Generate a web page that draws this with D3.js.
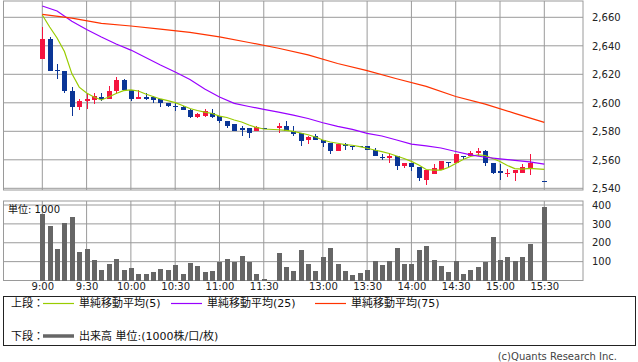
<!DOCTYPE html>
<html lang="ja">
<head>
  <meta charset="UTF-8">
  <title>5分足チャート</title>
  <script src="https://d3js.org/d3.v7.min.js"></script>
  <style>
    body {
      margin: 0;
      background: #fff;
    }
    svg {
      display: block;
      font-family: "DejaVu Sans", "Noto Sans CJK JP", sans-serif;
    }
  </style>
</head>
<body>
  <svg id="chart" width="638" height="362"></svg>

  <script>
    // 5分刻みの時刻（昼休みは1枠だけ空ける）
    const times = [
      '9:00', '9:05', '9:10', '9:15', '9:20', '9:25', '9:30', '9:35', '9:40', '9:45', '9:50', '9:55',
      '10:00', '10:05', '10:10', '10:15', '10:20', '10:25', '10:30', '10:35', '10:40', '10:45', '10:50', '10:55',
      '11:00', '11:05', '11:10', '11:15', '11:20', '11:25', '11:30', '昼休み',
      '12:30', '12:35', '12:40', '12:45', '12:50', '12:55',
      '13:00', '13:05', '13:10', '13:15', '13:20', '13:25', '13:30', '13:35', '13:40', '13:45', '13:50', '13:55',
      '14:00', '14:05', '14:10', '14:15', '14:20', '14:25', '14:30', '14:35', '14:40', '14:45', '14:50', '14:55',
      '15:00', '15:05', '15:10', '15:15', '15:20', '15:25', '15:30'
    ];
    const tickTimes = ['9:00', '9:30', '10:00', '10:30', '11:00', '11:30', '13:00', '13:30', '14:00', '14:30', '15:00', '15:30'];
    const priceTicks = [2540, 2560, 2580, 2600, 2620, 2640, 2660];
    const volumeTicks = [100, 200, 300, 400];

    // 四本値
    const open = [
      2631, 2645, 2623, 2622, 2608, 2597, 2601, 2602, 2604, 2603, 2608, 2616,
      2609, 2603, 2604, 2604, 2603, 2600, 2598, 2597, 2595, 2590, 2591, 2593,
      2591, 2587, 2585, 2582, 2582, 2580, 2582.5, null,
      2582, 2584, 2580, 2579, 2574, 2577,
      2574, 2572, 2566, 2571, 2570, 2570, 2570, 2567, 2562, 2561, 2563, 2556,
      2558, 2555, 2546, 2550, 2553, 2558.5, 2558, 2563, 2563, 2565, 2566, 2558,
      2552, 2550.5, 2551, 2551, 2554, null, 2545
    ];
    const high = [
      2653, 2646, 2627, 2622, 2611, 2603, 2606, 2607, 2607, 2612, 2618, 2617,
      2609, 2609, 2607, 2605, 2603, 2600, 2600, 2598, 2596, 2593, 2596, 2596,
      2591, 2587, 2585, 2584, 2582, 2584, 2582.5, null,
      2586, 2587, 2584, 2579, 2577, 2578,
      2574, 2572, 2571, 2572, 2570, 2570, 2570, 2568, 2564, 2565, 2563, 2558,
      2558, 2555, 2553, 2557, 2559, 2558.5, 2564, 2563, 2566, 2568, 2567, 2558,
      2557, 2553.5, 2553, 2557, 2564, null, 2545
    ];
    const low = [
      2631, 2622, 2617, 2607, 2591, 2595, 2596, 2599, 2601, 2603, 2606, 2609,
      2601, 2603, 2602, 2600, 2597, 2597, 2594, 2595, 2589, 2589, 2590, 2589,
      2586, 2582, 2580, 2577, 2575, 2580, 2582, null,
      2579, 2580, 2577, 2570, 2571, 2574,
      2569, 2564, 2566, 2567, 2567, 2569, 2567, 2563, 2560, 2558, 2553, 2554,
      2552, 2545, 2542, 2550, 2553, 2555, 2558, 2560, 2562, 2563, 2556, 2550,
      2546, 2548, 2545, 2551, 2549, null, 2544.5
    ];
    const close = [
      2645, 2622, 2622, 2608, 2597, 2601, 2603, 2605, 2603, 2608, 2616, 2609,
      2603, 2604, 2603, 2602, 2600, 2598, 2597, 2595, 2590, 2592, 2594, 2590,
      2587, 2584, 2580, 2581, 2579, 2583, 2582, null,
      2584, 2580, 2578, 2573, 2576, 2574,
      2572, 2566, 2571, 2570, 2569, 2569, 2567, 2563, 2561, 2563, 2556, 2558,
      2555, 2547, 2553, 2554, 2559, 2558, 2564, 2562, 2565, 2566, 2558, 2551,
      2551, 2551, 2553, 2555, 2558, null, 2544.5
    ];

    // 出来高（単位: 1000）
    const volume = [
      350, 287, 166, 303, 334, 150, 166, 108, 55, 87, 113, 55,
      66, 34, 34, 45, 61, 55, 82, 34, 92, 76, 45, 50,
      97, 113, 97, 129, 97, 34, 8, null,
      145, 71, 50, 161, 87, 50,
      124, 173, 87, 50, 29, 39, 55, 103, 82, 103, 173, 87,
      87, 161, 182, 108, 76, 45, 103, 34, 55, 71, 97, 229,
      108, 124, 103, 124, 192, null, 387
    ];

    // 単純移動平均（チャートから読み取り）
    const ma5 = [
      2661.6, 2653.2, 2645.5, 2636, 2620.5, 2611, 2606.9, 2604.1, 2602, 2604.1, 2606.5, 2608.5,
      2609, 2608.3, 2606.2, 2604.4, 2602.7, 2601.5, 2600.1, 2598.1, 2596, 2594.6, 2593.5, 2592.5,
      2590.7, 2589.7, 2587.9, 2586.5, 2584.4, 2582.7, 2581.6, null,
      2581.1, 2580.6, 2579.9, 2578.8, 2577.6, 2576,
      2573.9, 2572.5, 2571.6, 2570.7, 2570.2, 2569.3, 2568.1, 2566.9, 2565.7, 2564.4, 2562.7, 2560.9,
      2558.9, 2556.4, 2553.2, 2552.8, 2552.8, 2554.6, 2557.4, 2560.2, 2562.3, 2563.4, 2563, 2560.9,
      2558.8, 2556, 2553.8, 2553.5, 2554, null, 2553.3
    ];
    const ma25 = [
      ['9:00', 2667.9], ['9:10', 2664.4], ['9:20', 2657.2], ['9:30', 2651.4], ['9:40', 2646.2], ['9:50', 2641.3],
      ['10:00', 2637], ['10:10', 2631.8], ['10:20', 2626.5], ['10:30', 2621.6], ['10:40', 2616.4], ['10:50', 2609.7],
      ['11:00', 2604.1], ['11:10', 2599.6], ['11:20', 2597.4], ['11:30', 2595.4], ['12:30', 2593.4], ['12:40', 2591.4],
      ['12:50', 2589], ['13:00', 2586], ['13:10', 2583.4], ['13:20', 2581.3], ['13:30', 2578.6], ['13:40', 2576.7],
      ['13:50', 2573.9], ['14:00', 2571], ['14:10', 2569.8], ['14:20', 2568.3], ['14:30', 2565.8], ['14:40', 2563.4],
      ['14:50', 2561.8], ['15:00', 2560.6], ['15:10', 2559.6], ['15:20', 2558.5], ['15:30', 2557]
    ];
    const ma75 = [
      ['9:00', 2662.1], ['9:20', 2659.4], ['9:40', 2655.8], ['10:00', 2653.9], ['10:20', 2651.7], ['10:40', 2649.4],
      ['11:00', 2646.3], ['11:20', 2642.3], ['12:30', 2638.3], ['12:50', 2633.6], ['13:10', 2627.6], ['13:30', 2622.6],
      ['13:50', 2616.9], ['14:10', 2611.5], ['14:30', 2604.4], ['14:50', 2599.1], ['15:10', 2592.6], ['15:30', 2586.3]
    ];

    const maLabels = ['単純移動平均(5)', '単純移動平均(25)', '単純移動平均(75)'];
    const maColors = ['#99cc00', '#9900ff', '#ff3300'];
    const upColor = '#f5143f';
    const downColor = '#0a3596';

    const svg = d3.select('#chart');
    const plotLeft = 3.5, plotRight = 583;

    // スケール
    const x = d3.scalePoint().domain(times).range([42.3, 544.3]);
    const yPrice = d3.scaleLinear().domain([2540, 2660]).range([188.3, 17.3]);
    const yVol = d3.scaleLinear().domain([0, 400]).range([280.5, 205]);

    // グリッド
    function drawGrid(top, bottom, yScale, ticks) {
      const g = svg.append('g').attr('stroke', '#9a9a9a').attr('stroke-width', 1);
      g.selectAll('line.v').data(tickTimes).join('line')
        .attr('x1', d => x(d)).attr('x2', d => x(d))
        .attr('y1', top).attr('y2', bottom);
      g.selectAll('line.h').data(ticks).join('line')
        .attr('x1', plotLeft).attr('x2', plotRight)
        .attr('y1', d => yScale(d)).attr('y2', d => yScale(d));
      g.append('rect')
        .attr('x', plotLeft).attr('y', top)
        .attr('width', plotRight - plotLeft).attr('height', bottom - top)
        .attr('fill', 'none');
    }
    drawGrid(1, 190, yPrice, priceTicks);
    drawGrid(201, 280.5, yVol, volumeTicks);

    // 右側の目盛り
    const priceAxis = svg.append('g')
      .attr('transform', `translate(${plotRight}, 0)`)
      .call(d3.axisRight(yPrice).tickValues(priceTicks).tickSize(0).tickPadding(9).tickFormat(d3.format(',')));
    const volAxis = svg.append('g')
      .attr('transform', `translate(${plotRight}, 0)`)
      .call(d3.axisRight(yVol).tickValues(volumeTicks).tickSize(0).tickPadding(9));
    const timeAxis = svg.append('g')
      .attr('transform', 'translate(0, 280.5)')
      .call(d3.axisBottom(x).tickValues(tickTimes).tickSize(0).tickPadding(2.5));
    [priceAxis, volAxis, timeAxis].forEach(a => {
      a.select('.domain').remove();
      a.attr('font-family', null).attr('font-size', 10);
      a.selectAll('text').attr('fill', '#222');
    });

    // ローソク足
    const bars = times.map((t, i) => ({ t, o: open[i], h: high[i], l: low[i], c: close[i], v: volume[i] }))
      .filter(d => d.c != null);

    const candles = svg.append('g').attr('shape-rendering', 'crispEdges');
    candles.selectAll('line').data(bars).join('line')
      .attr('x1', d => Math.round(x(d.t)) + 0.5).attr('x2', d => Math.round(x(d.t)) + 0.5)
      .attr('y1', d => yPrice(d.h)).attr('y2', d => yPrice(d.l))
      .attr('stroke', d => d.c > d.o ? upColor : downColor);
    candles.selectAll('rect').data(bars).join('rect')
      .attr('x', d => Math.round(x(d.t)) - 2)
      .attr('width', 5)
      .attr('y', d => yPrice(Math.max(d.o, d.c)))
      .attr('height', d => Math.max(1, yPrice(Math.min(d.o, d.c)) - yPrice(Math.max(d.o, d.c))))
      .attr('fill', d => d.c > d.o ? upColor : downColor);

    // 移動平均線
    const line = d3.line().x(d => x(d[0])).y(d => yPrice(d[1]));
    const ma5Points = times.map((t, i) => [t, ma5[i]]).filter(d => d[1] != null);
    [ma5Points, ma25, ma75].forEach((pts, k) => {
      svg.append('path')
        .attr('d', line(pts))
        .attr('fill', 'none')
        .attr('stroke', maColors[k])
        .attr('stroke-width', 1.2);
    });

    // 出来高
    svg.append('g').attr('shape-rendering', 'crispEdges')
      .selectAll('rect').data(bars).join('rect')
      .attr('x', d => Math.round(x(d.t)) - 2)
      .attr('width', 5)
      .attr('y', d => yVol(d.v))
      .attr('height', d => yVol(0) - yVol(d.v))
      .attr('fill', '#666');

    svg.append('text')
      .attr('x', 8).attr('y', 209.5)
      .attr('dominant-baseline', 'central')
      .attr('font-size', 10).attr('fill', '#111')
      .text('単位: 1000');

    // 凡例
    const legend = svg.append('g').attr('font-size', 11).attr('fill', '#111');
    legend.append('rect')
      .attr('x', 3.5).attr('y', 296.5).attr('width', 632).attr('height', 49)
      .attr('fill', 'none').attr('stroke', '#222');
    legend.append('text').attr('x', 11).attr('y', 303.5).attr('dominant-baseline', 'central').text('上段：');
    const lineStarts = [43, 171, 315];
    maLabels.forEach((label, k) => {
      legend.append('line')
        .attr('x1', lineStarts[k]).attr('x2', lineStarts[k] + 31)
        .attr('y1', 303.5).attr('y2', 303.5)
        .attr('stroke', maColors[k]).attr('stroke-width', 1.2);
      legend.append('text')
        .attr('x', lineStarts[k] + 36).attr('y', 303.5)
        .attr('dominant-baseline', 'central')
        .text(label);
    });
    legend.append('text').attr('x', 11).attr('y', 336).attr('dominant-baseline', 'central').text('下段：');
    legend.append('line')
      .attr('x1', 43).attr('x2', 74).attr('y1', 336).attr('y2', 336)
      .attr('stroke', '#666').attr('stroke-width', 3.5);
    legend.append('text').attr('x', 79).attr('y', 336).attr('dominant-baseline', 'central').text('出来高 単位:(1000株/口/枚)');

    svg.append('text')
      .attr('x', 617).attr('y', 356)
      .attr('text-anchor', 'end').attr('dominant-baseline', 'central')
      .attr('font-size', 10).attr('fill', '#444')
      .text('(c)Quants Research Inc.');
  </script>
</body>
</html>
